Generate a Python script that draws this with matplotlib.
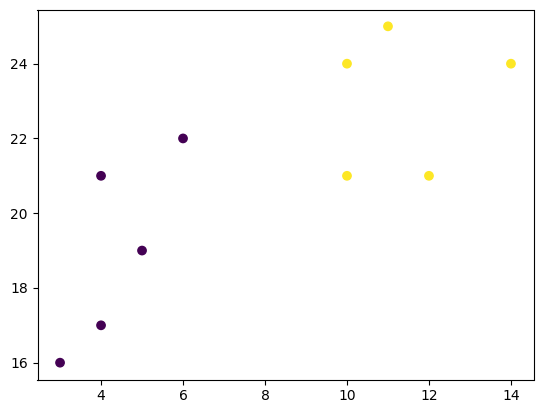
import matplotlib
matplotlib.use("Agg")
import matplotlib.pyplot as plt

x = [3, 4, 4, 5, 6, 10, 11, 14, 10, 12]
y = [16, 17, 21, 19, 22, 24, 25, 24, 21, 21]
labels = [0, 0, 0, 0, 0, 1, 1, 1, 1, 1]

fig = plt.figure(figsize=(5.43, 4.13), dpi=100)
ax = fig.add_axes([37.5/543, (413-379.5)/413, 496/543, 370/413])
ax.scatter(x, y, c=labels, cmap='viridis')
fig.savefig("out.png", dpi=100)
